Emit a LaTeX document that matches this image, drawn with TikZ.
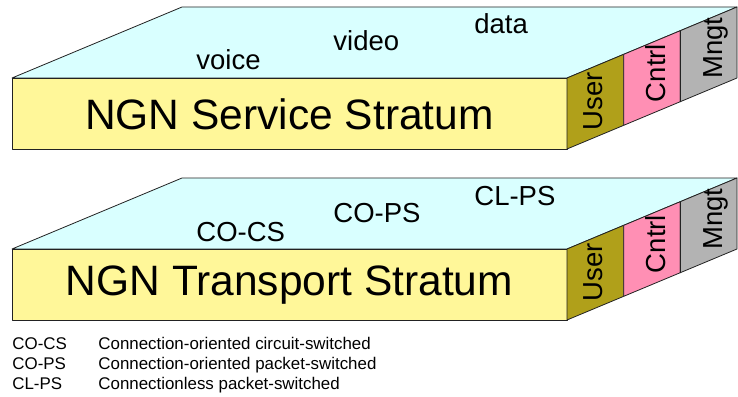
\documentclass[tikz,border=0pt]{standalone}
\usepackage{fontspec}
\setmainfont{Liberation Sans}
\usepackage{xcolor}
\usepackage{tikz}
\definecolor{frontY}{HTML}{FFF799}
\definecolor{topC}{HTML}{D9FFFF}
\definecolor{userO}{HTML}{B0A01A}
\definecolor{cntrlP}{HTML}{FF8FB4}
\definecolor{mngtG}{HTML}{B3B3B3}
\definecolor{edgeK}{HTML}{222222}

\begin{document}
\begin{tikzpicture}[x=1pt, y=-1pt, line width=0.8pt, line join=round,
  face/.style={draw=edgeK},
  big/.style={font=\fontsize{42.5}{50}\selectfont, inner sep=0pt},
  flow/.style={font=\fontsize{27.5}{33}\selectfont, anchor=base west, inner sep=0pt},
  plane/.style={font=\fontsize{27.5}{33}\selectfont, rotate=90, inner sep=0pt},
  legend/.style={font=\fontsize{16.9}{20}\selectfont, anchor=base west, inner sep=0pt}]
\useasboundingbox (0,0) rectangle (738,396);
% two strata, the lower one 171 below the upper one
\foreach \dy/\stratum/\ta/\tb/\tc in {0/Service/voice/video/data, 171/Transport/CO-CS/CO-PS/CL-PS}{
  \begin{scope}[shift={(0,\dy)}]
    \filldraw[face, fill=topC] (12,78) -- (182,7) -- (737,7) -- (567,78) -- cycle;
    \filldraw[face, fill=frontY] (12,78) rectangle (567,149);
    \foreach \k/\col/\lab/\lx/\ly in {0/userO/User/593/101, 1/cntrlP/Cntrl/656/73, 2/mngtG/Mngt/716/48}{
      \filldraw[face, fill=\col, shift={(\k*56.67,-\k*23.67)}] (567,78) -- (567,149) -- (623.67,125.33) -- (623.67,54.33) -- cycle;
      \node[plane] (\lab-\stratum) at (\lx,\ly) {\lab};
    }
    \node[big] (name-\stratum) at (289.5,114) {NGN \stratum{} Stratum};
    \node[flow] (a-\stratum) at (196,70) {\ta};
    \node[flow] (b-\stratum) at (333,51) {\tb};
    \node[flow] (c-\stratum) at (474,34) {\tc};
  \end{scope}
}
% legend
\node[legend] (k1) at (12,349) {CO-CS};
\node[legend] (k2) at (12,369) {CO-PS};
\node[legend] (k3) at (12,389) {CL-PS};
\node[legend] (v1) at (98,349) {Connection-oriented circuit-switched};
\node[legend] (v2) at (98,369) {Connection-oriented packet-switched};
\node[legend] (v3) at (98,389) {Connectionless packet-switched};
\end{tikzpicture}
\end{document}
